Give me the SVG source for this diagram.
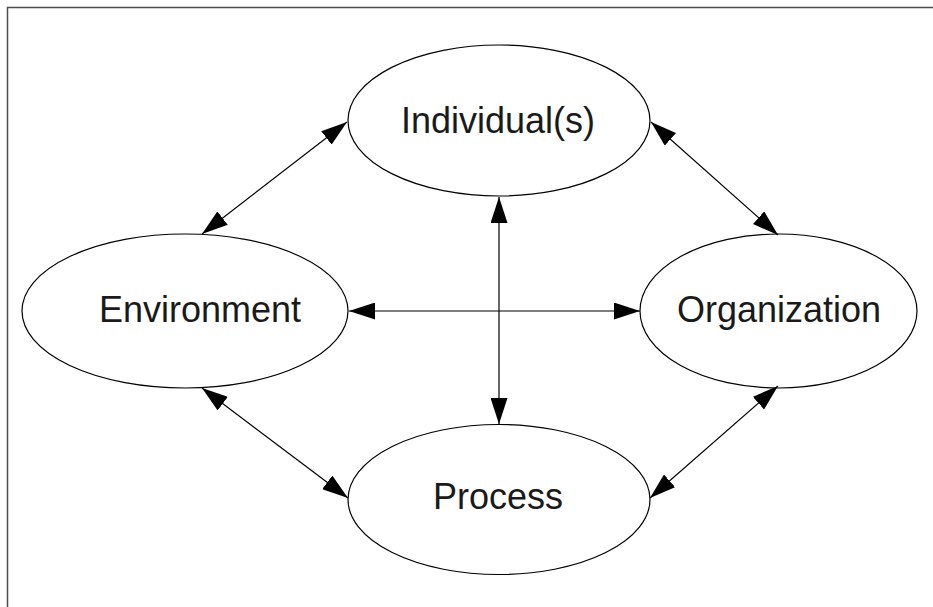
<svg xmlns="http://www.w3.org/2000/svg" width="933" height="607" viewBox="0 0 933 607">
  <style>
    .node ellipse { fill: #ffffff; stroke: #000000; stroke-width: 1.2; }
    .node text { font-family: "Liberation Sans", Arial, sans-serif; font-size: 36px; fill: #1a1a1a; text-anchor: middle; }
    .link { stroke: #000000; stroke-width: 1.2; fill: none; marker-start: url(#head); marker-end: url(#head); }
  </style>
  <defs>
    <marker id="head" viewBox="0 0 26 17" refX="26" refY="8.5" markerWidth="26" markerHeight="17" markerUnits="userSpaceOnUse" orient="auto-start-reverse">
      <path d="M0,0 L26,8.5 L0,17 z" fill="#000000"/>
    </marker>
  </defs>

  <rect x="0" y="0" width="933" height="607" fill="#ffffff"/>
  <!-- frame, open on the right and bottom -->
  <rect x="7.5" y="7.5" width="940" height="620" fill="none" stroke="#4d4d4d" stroke-width="1.5"/>

  <g id="individuals" class="node">
    <ellipse cx="499" cy="120.5" rx="151" ry="75.5"/>
    <text x="498" y="133">Individual(s)</text>
  </g>
  <g id="environment" class="node">
    <ellipse cx="185" cy="311" rx="163" ry="77"/>
    <text x="200" y="322">Environment</text>
  </g>
  <g id="organization" class="node">
    <ellipse cx="778.5" cy="311" rx="138.5" ry="77"/>
    <text x="779" y="322">Organization</text>
  </g>
  <g id="process" class="node">
    <ellipse cx="499" cy="499.5" rx="151" ry="75"/>
    <text x="498" y="509">Process</text>
  </g>

  <g id="connectors">
    <line class="link" x1="347" y1="122" x2="202" y2="234"/>
    <line class="link" x1="651" y1="122" x2="778" y2="235"/>
    <line class="link" x1="349" y1="311" x2="640" y2="311"/>
    <line class="link" x1="499" y1="197" x2="499" y2="424"/>
    <line class="link" x1="202" y1="388" x2="348" y2="498"/>
    <line class="link" x1="778" y1="386" x2="650" y2="498"/>
  </g>
</svg>
